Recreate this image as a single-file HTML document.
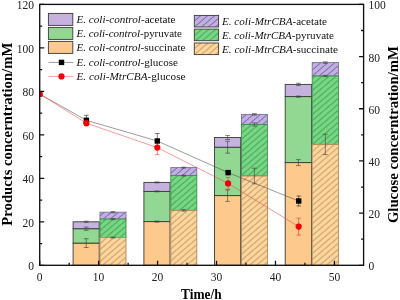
<!DOCTYPE html>
<html><head><meta charset="utf-8"><title>chart</title>
<style>html,body{margin:0;padding:0;background:#fff;}body{width:400px;height:300px;position:relative;overflow:hidden;}</style>
</head><body>
<svg width="400" height="300" viewBox="0 0 400 300" style="display:block;position:absolute;left:0;top:0;will-change:transform;opacity:0.999">
<defs>
<pattern id="hp" patternUnits="userSpaceOnUse" width="7" height="6" x="2" y="5.9"><rect width="7" height="6" fill="#c3b0e2"/><path d="M-1,7 L8,-1 M-8,7 L1,-1 M6,7 L15,-1" stroke="#5c4f8c" stroke-width="0.9" fill="none"/></pattern>
<pattern id="hg" patternUnits="userSpaceOnUse" width="7" height="6" x="2" y="2.5"><rect width="7" height="6" fill="#78d684"/><path d="M-1,7 L8,-1 M-8,7 L1,-1 M6,7 L15,-1" stroke="#2a9644" stroke-width="1.0" fill="none"/></pattern>
<pattern id="ho" patternUnits="userSpaceOnUse" width="7" height="6" x="2" y="3.5"><rect width="7" height="6" fill="#fcd6a0"/><path d="M-1,7 L8,-1 M-8,7 L1,-1 M6,7 L15,-1" stroke="#a9762f" stroke-width="0.85" fill="none"/></pattern>
<clipPath id="plot"><rect x="39.7" y="4.4" width="323.90000000000003" height="260.90000000000003"/></clipPath>
</defs>
<rect width="400" height="300" fill="#fff"/>
<g clip-path="url(#plot)">
<rect x="73.1" y="243.1" width="26.1" height="22.2" fill="#fdc98c" stroke="#3a3a3a" stroke-width="0.9"/>
<rect x="73.1" y="228.7" width="26.1" height="14.4" fill="#92d892" stroke="#3a3a3a" stroke-width="0.9"/>
<rect x="73.1" y="221.8" width="26.1" height="6.9" fill="#c6b2df" stroke="#3a3a3a" stroke-width="0.9"/>
<path d="M86.2,221.2 V222.4 M83.8,221.2 h4.8 M83.8,222.4 h4.8" stroke="#3c3c3c" stroke-width="0.6" fill="none"/>
<path d="M86.2,227.1 V230.3 M83.8,227.1 h4.8 M83.8,230.3 h4.8" stroke="#3c3c3c" stroke-width="0.6" fill="none"/>
<path d="M86.2,238.7 V247.5 M83.8,238.7 h4.8 M83.8,247.5 h4.8" stroke="#3c3c3c" stroke-width="0.6" fill="none"/>
<rect x="100.0" y="212.2" width="26.0" height="6.9" fill="url(#hp)" stroke="#7a748c" stroke-width="0.9"/>
<rect x="100.0" y="219.1" width="26.0" height="18.4" fill="url(#hg)" stroke="#3c8f4c" stroke-width="0.9"/>
<rect x="100.0" y="237.5" width="26.0" height="27.8" fill="url(#ho)" stroke="#b08a58" stroke-width="0.9"/>
<path d="M113.0,211.6 V212.8 M110.6,211.6 h4.8 M110.6,212.8 h4.8" stroke="#3c3c3c" stroke-width="0.6" fill="none"/>
<path d="M113.0,218.5 V219.7 M110.6,218.5 h4.8 M110.6,219.7 h4.8" stroke="#3c3c3c" stroke-width="0.6" fill="none"/>
<path d="M113.0,237.0 V238.0 M110.6,237.0 h4.8 M110.6,238.0 h4.8" stroke="#3c3c3c" stroke-width="0.6" fill="none"/>
<rect x="143.9" y="221.6" width="26.1" height="43.7" fill="#fdc98c" stroke="#3a3a3a" stroke-width="0.9"/>
<rect x="143.9" y="191.4" width="26.1" height="30.2" fill="#92d892" stroke="#3a3a3a" stroke-width="0.9"/>
<rect x="143.9" y="182.4" width="26.1" height="9.0" fill="#c6b2df" stroke="#3a3a3a" stroke-width="0.9"/>
<path d="M156.9,181.9 V182.9 M154.5,181.9 h4.8 M154.5,182.9 h4.8" stroke="#3c3c3c" stroke-width="0.6" fill="none"/>
<path d="M156.9,190.9 V191.9 M154.5,190.9 h4.8 M154.5,191.9 h4.8" stroke="#3c3c3c" stroke-width="0.6" fill="none"/>
<path d="M156.9,221.0 V222.2 M154.5,221.0 h4.8 M154.5,222.2 h4.8" stroke="#3c3c3c" stroke-width="0.6" fill="none"/>
<rect x="170.8" y="167.6" width="26.0" height="8.0" fill="url(#hp)" stroke="#7a748c" stroke-width="0.9"/>
<rect x="170.8" y="175.6" width="26.0" height="34.8" fill="url(#hg)" stroke="#3c8f4c" stroke-width="0.9"/>
<rect x="170.8" y="210.4" width="26.0" height="54.9" fill="url(#ho)" stroke="#b08a58" stroke-width="0.9"/>
<path d="M183.8,167.1 V168.1 M181.4,167.1 h4.8 M181.4,168.1 h4.8" stroke="#3c3c3c" stroke-width="0.6" fill="none"/>
<path d="M183.8,175.1 V176.1 M181.4,175.1 h4.8 M181.4,176.1 h4.8" stroke="#3c3c3c" stroke-width="0.6" fill="none"/>
<path d="M183.8,209.6 V211.2 M181.4,209.6 h4.8 M181.4,211.2 h4.8" stroke="#3c3c3c" stroke-width="0.6" fill="none"/>
<rect x="214.5" y="195.6" width="26.2" height="69.7" fill="#fdc98c" stroke="#3a3a3a" stroke-width="0.9"/>
<rect x="214.5" y="147.2" width="26.2" height="48.4" fill="#92d892" stroke="#3a3a3a" stroke-width="0.9"/>
<rect x="214.5" y="137.5" width="26.2" height="9.7" fill="#c6b2df" stroke="#3a3a3a" stroke-width="0.9"/>
<path d="M227.6,135.5 V139.5 M225.2,135.5 h4.8 M225.2,139.5 h4.8" stroke="#3c3c3c" stroke-width="0.6" fill="none"/>
<path d="M227.6,141.2 V153.2 M225.2,141.2 h4.8 M225.2,153.2 h4.8" stroke="#3c3c3c" stroke-width="0.6" fill="none"/>
<path d="M227.6,189.8 V201.4 M225.2,189.8 h4.8 M225.2,201.4 h4.8" stroke="#3c3c3c" stroke-width="0.6" fill="none"/>
<rect x="241.5" y="114.4" width="25.9" height="10.0" fill="url(#hp)" stroke="#7a748c" stroke-width="0.9"/>
<rect x="241.5" y="124.4" width="25.9" height="51.6" fill="url(#hg)" stroke="#3c8f4c" stroke-width="0.9"/>
<rect x="241.5" y="176.0" width="25.9" height="89.3" fill="url(#ho)" stroke="#b08a58" stroke-width="0.9"/>
<path d="M254.4,113.6 V115.2 M252.0,113.6 h4.8 M252.0,115.2 h4.8" stroke="#3c3c3c" stroke-width="0.6" fill="none"/>
<path d="M254.4,122.8 V126.0 M252.0,122.8 h4.8 M252.0,126.0 h4.8" stroke="#3c3c3c" stroke-width="0.6" fill="none"/>
<path d="M254.4,168.2 V183.8 M252.0,168.2 h4.8 M252.0,183.8 h4.8" stroke="#3c3c3c" stroke-width="0.6" fill="none"/>
<rect x="285.2" y="162.6" width="26.4" height="102.7" fill="#fdc98c" stroke="#3a3a3a" stroke-width="0.9"/>
<rect x="285.2" y="96.6" width="26.4" height="66.0" fill="#92d892" stroke="#3a3a3a" stroke-width="0.9"/>
<rect x="285.2" y="84.4" width="26.4" height="12.2" fill="#c6b2df" stroke="#3a3a3a" stroke-width="0.9"/>
<path d="M298.4,83.2 V85.6 M296.0,83.2 h4.8 M296.0,85.6 h4.8" stroke="#3c3c3c" stroke-width="0.6" fill="none"/>
<path d="M298.4,96.0 V97.2 M296.0,96.0 h4.8 M296.0,97.2 h4.8" stroke="#3c3c3c" stroke-width="0.6" fill="none"/>
<path d="M298.4,159.6 V165.6 M296.0,159.6 h4.8 M296.0,165.6 h4.8" stroke="#3c3c3c" stroke-width="0.6" fill="none"/>
<rect x="312.2" y="62.6" width="26.2" height="13.4" fill="url(#hp)" stroke="#7a748c" stroke-width="0.9"/>
<rect x="312.2" y="76.0" width="26.2" height="68.4" fill="url(#hg)" stroke="#3c8f4c" stroke-width="0.9"/>
<rect x="312.2" y="144.4" width="26.2" height="120.9" fill="url(#ho)" stroke="#b08a58" stroke-width="0.9"/>
<path d="M325.3,61.8 V63.4 M322.9,61.8 h4.8 M322.9,63.4 h4.8" stroke="#3c3c3c" stroke-width="0.6" fill="none"/>
<path d="M325.3,75.4 V76.6 M322.9,75.4 h4.8 M322.9,76.6 h4.8" stroke="#3c3c3c" stroke-width="0.6" fill="none"/>
<path d="M325.3,134.2 V154.6 M322.9,134.2 h4.8 M322.9,154.6 h4.8" stroke="#3c3c3c" stroke-width="0.6" fill="none"/>
<polyline points="39.7,94 86.4,120.3 157.3,141 228.1,172.6 298.7,201" fill="none" stroke="#4a4a4a" stroke-width="0.55"/>
<polyline points="39.7,94 86.4,123.2 157.3,147.6 228.1,183.4 298.7,226.6" fill="none" stroke="#e63c3c" stroke-width="0.5"/>
<path d="M86.4,115.3 V125.3 M84.2,115.3 h4.4 M84.2,125.3 h4.4" stroke="#222" stroke-width="0.6" fill="none"/>
<path d="M157.3,133.5 V148.5 M155.10000000000002,133.5 h4.4 M155.10000000000002,148.5 h4.4" stroke="#222" stroke-width="0.6" fill="none"/>
<path d="M228.1,170.6 V174.6 M225.9,170.6 h4.4 M225.9,174.6 h4.4" stroke="#222" stroke-width="0.6" fill="none"/>
<path d="M298.7,196 V206 M296.5,196 h4.4 M296.5,206 h4.4" stroke="#222" stroke-width="0.6" fill="none"/>
<path d="M86.4,120.7 V125.7 M84.2,120.7 h4.4 M84.2,125.7 h4.4" stroke="#e03030" stroke-width="0.6" fill="none"/>
<path d="M157.3,140.6 V154.6 M155.10000000000002,140.6 h4.4 M155.10000000000002,154.6 h4.4" stroke="#e03030" stroke-width="0.6" fill="none"/>
<path d="M228.1,177.4 V189.4 M225.9,177.4 h4.4 M225.9,189.4 h4.4" stroke="#e03030" stroke-width="0.6" fill="none"/>
<path d="M298.7,218.1 V235.1 M296.5,218.1 h4.4 M296.5,235.1 h4.4" stroke="#e03030" stroke-width="0.6" fill="none"/>
<rect x="37.0" y="91.3" width="5.4" height="5.4" fill="#000"/>
<rect x="83.7" y="117.6" width="5.4" height="5.4" fill="#000"/>
<rect x="154.60000000000002" y="138.3" width="5.4" height="5.4" fill="#000"/>
<rect x="225.4" y="169.9" width="5.4" height="5.4" fill="#000"/>
<rect x="296.0" y="198.3" width="5.4" height="5.4" fill="#000"/>
<circle cx="39.7" cy="94" r="3.1" fill="#f00000"/>
<circle cx="86.4" cy="123.2" r="3.1" fill="#f00000"/>
<circle cx="157.3" cy="147.6" r="3.1" fill="#f00000"/>
<circle cx="228.1" cy="183.4" r="3.1" fill="#f00000"/>
<circle cx="298.7" cy="226.6" r="3.1" fill="#f00000"/>
</g>
<rect x="39.7" y="4.4" width="323.9" height="260.9" fill="none" stroke="#111" stroke-width="1.35"/>
<path d="M39.7,265.30 h4.5 M39.7,243.56 h2.5 M39.7,221.82 h4.5 M39.7,200.07 h2.5 M39.7,178.33 h4.5 M39.7,156.59 h2.5 M39.7,134.85 h4.5 M39.7,113.11 h2.5 M39.7,91.37 h4.5 M39.7,69.62 h2.5 M39.7,47.88 h4.5 M39.7,26.14 h2.5 M39.7,4.40 h4.5 M363.6,265.30 h-4.5 M363.6,239.21 h-2.5 M363.6,213.12 h-4.5 M363.6,187.03 h-2.5 M363.6,160.94 h-4.5 M363.6,134.85 h-2.5 M363.6,108.76 h-4.5 M363.6,82.67 h-2.5 M363.6,56.58 h-4.5 M363.6,30.49 h-2.5 M363.6,4.40 h-4.5 M39.70,265.3 v-4.5 M69.17,265.3 v-2.5 M98.64,265.3 v-4.5 M128.11,265.3 v-2.5 M157.58,265.3 v-4.5 M187.05,265.3 v-2.5 M216.52,265.3 v-4.5 M245.99,265.3 v-2.5 M275.46,265.3 v-4.5 M304.93,265.3 v-2.5 M334.40,265.3 v-4.5" stroke="#111" stroke-width="1.3" fill="none"/>
<text x="34" y="270.2" text-anchor="end" font-family="Liberation Serif, serif" font-size="11.5" fill="#222">0</text>
<text x="34" y="226.7" text-anchor="end" font-family="Liberation Serif, serif" font-size="11.5" fill="#222">20</text>
<text x="34" y="183.2" text-anchor="end" font-family="Liberation Serif, serif" font-size="11.5" fill="#222">40</text>
<text x="34" y="139.8" text-anchor="end" font-family="Liberation Serif, serif" font-size="11.5" fill="#222">60</text>
<text x="34" y="96.3" text-anchor="end" font-family="Liberation Serif, serif" font-size="11.5" fill="#222">80</text>
<text x="34" y="52.8" text-anchor="end" font-family="Liberation Serif, serif" font-size="11.5" fill="#222">100</text>
<text x="34" y="9.3" text-anchor="end" font-family="Liberation Serif, serif" font-size="11.5" fill="#222">120</text>
<text x="368.6" y="270.2" text-anchor="start" font-family="Liberation Serif, serif" font-size="11.5" fill="#222">0</text>
<text x="368.6" y="218.0" text-anchor="start" font-family="Liberation Serif, serif" font-size="11.5" fill="#222">20</text>
<text x="368.6" y="165.8" text-anchor="start" font-family="Liberation Serif, serif" font-size="11.5" fill="#222">40</text>
<text x="368.6" y="113.7" text-anchor="start" font-family="Liberation Serif, serif" font-size="11.5" fill="#222">60</text>
<text x="368.6" y="61.5" text-anchor="start" font-family="Liberation Serif, serif" font-size="11.5" fill="#222">80</text>
<text x="368.6" y="9.3" text-anchor="start" font-family="Liberation Serif, serif" font-size="11.5" fill="#222">100</text>
<text x="39.7" y="281" text-anchor="middle" font-family="Liberation Serif, serif" font-size="11.5" fill="#222">0</text>
<text x="98.6" y="281" text-anchor="middle" font-family="Liberation Serif, serif" font-size="11.5" fill="#222">10</text>
<text x="157.6" y="281" text-anchor="middle" font-family="Liberation Serif, serif" font-size="11.5" fill="#222">20</text>
<text x="216.5" y="281" text-anchor="middle" font-family="Liberation Serif, serif" font-size="11.5" fill="#222">30</text>
<text x="275.5" y="281" text-anchor="middle" font-family="Liberation Serif, serif" font-size="11.5" fill="#222">40</text>
<text x="334.4" y="281" text-anchor="middle" font-family="Liberation Serif, serif" font-size="11.5" fill="#222">50</text>
<text x="201.3" y="299.4" text-anchor="middle" font-family="Liberation Serif, serif" font-weight="bold" font-size="15" fill="#000" textLength="40.6" lengthAdjust="spacingAndGlyphs">Time/h</text>
<text transform="translate(12.3,134.2) rotate(-90)" text-anchor="middle" font-family="Liberation Serif, serif" font-weight="bold" font-size="15" fill="#000" textLength="183" lengthAdjust="spacingAndGlyphs">Products concerntration/mM</text>
<text transform="translate(397.6,134.6) rotate(-90)" text-anchor="middle" font-family="Liberation Serif, serif" font-weight="bold" font-size="15" fill="#000" textLength="177" lengthAdjust="spacingAndGlyphs">Glucose concerntration/mM</text>
<rect x="48.4" y="13.4" width="24.4" height="12" fill="#c6b2df" stroke="#3a3a3a" stroke-width="0.9"/>
<text x="76.5" y="23.4" font-family="Liberation Serif, serif" font-size="11" fill="#111" textLength="99" lengthAdjust="spacingAndGlyphs"><tspan font-style="italic">E. coli-control</tspan>-acetate</text>
<rect x="48.4" y="27.4" width="24.4" height="12" fill="#92d892" stroke="#3a3a3a" stroke-width="0.9"/>
<text x="76.5" y="37.4" font-family="Liberation Serif, serif" font-size="11" fill="#111" textLength="105.5" lengthAdjust="spacingAndGlyphs"><tspan font-style="italic">E. coli-control</tspan>-pyruvate</text>
<rect x="48.4" y="41.4" width="24.4" height="12" fill="#fdc98c" stroke="#3a3a3a" stroke-width="0.9"/>
<text x="76.5" y="51.4" font-family="Liberation Serif, serif" font-size="11" fill="#111" textLength="109" lengthAdjust="spacingAndGlyphs"><tspan font-style="italic">E. coli-control</tspan>-succinate</text>
<path d="M48.5,62.4 H73.5" stroke="#4a4a4a" stroke-width="0.55"/><rect x="58.8" y="59.7" width="5.4" height="5.4" fill="#000"/>
<text x="76.5" y="66" font-family="Liberation Serif, serif" font-size="11" fill="#111" textLength="101.5" lengthAdjust="spacingAndGlyphs"><tspan font-style="italic">E. coli-control</tspan>-glucose</text>
<path d="M48.5,76.4 H73.5" stroke="#e63c3c" stroke-width="0.5"/><circle cx="61.5" cy="76.4" r="3.1" fill="#f00000"/>
<text x="76.5" y="80" font-family="Liberation Serif, serif" font-size="11" fill="#111" textLength="109" lengthAdjust="spacingAndGlyphs"><tspan font-style="italic">E. coli-MtrCBA</tspan>-glucose</text>
<rect x="194.3" y="15.4" width="24.3" height="11.6" fill="url(#hp)" stroke="#3a3a3a" stroke-width="0.9"/>
<text x="222" y="25.2" font-family="Liberation Serif, serif" font-size="11" fill="#111" textLength="105" lengthAdjust="spacingAndGlyphs"><tspan font-style="italic">E. coli-MtrCBA</tspan>-acetate</text>
<rect x="194.3" y="29.099999999999998" width="24.3" height="11.6" fill="url(#hg)" stroke="#3a3a3a" stroke-width="0.9"/>
<text x="222" y="38.9" font-family="Liberation Serif, serif" font-size="11" fill="#111" textLength="112" lengthAdjust="spacingAndGlyphs"><tspan font-style="italic">E. coli-MtrCBA</tspan>-pyruvate</text>
<rect x="194.3" y="43.0" width="24.3" height="11.6" fill="url(#ho)" stroke="#3a3a3a" stroke-width="0.9"/>
<text x="222" y="52.8" font-family="Liberation Serif, serif" font-size="11" fill="#111" textLength="116" lengthAdjust="spacingAndGlyphs"><tspan font-style="italic">E. coli-MtrCBA</tspan>-succinate</text>
</svg>
</body></html>
